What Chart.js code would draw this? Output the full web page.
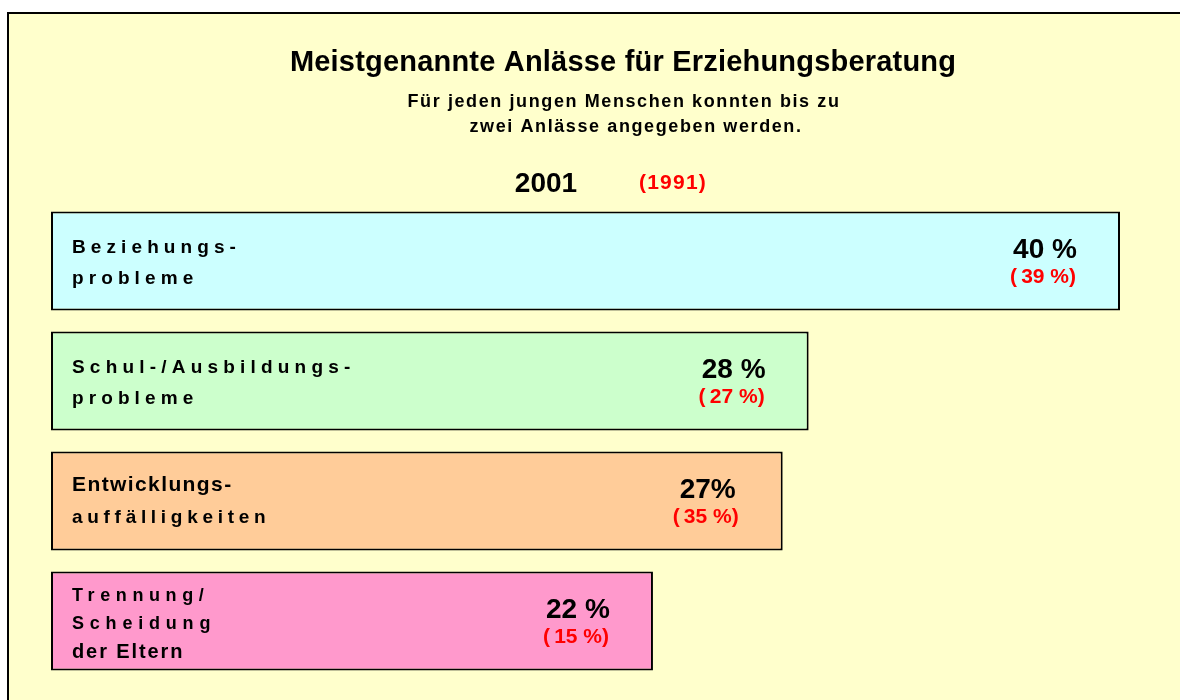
<!DOCTYPE html>
<html>
<head>
<meta charset="utf-8">
<script src="https://cdn.jsdelivr.net/npm/chart.js@4"></script>
<style>
  html, body { margin: 0; padding: 0; background: #fff; }
  #wrap  { position: relative; width: 1180px; height: 700px; overflow: hidden; }
  #frame { position: absolute; left: 7px; top: 12px; width: 1200px; height: 720px;
           background: #FFFFCC; border: 2px solid #000; }
  #chart { position: absolute; left: 0; top: 0; }
</style>
</head>
<body>
<div id="wrap">
  <div id="frame"></div>
  <canvas id="chart" width="1180" height="700"></canvas>
</div>
<script>
const FONT = "'Liberation Sans', Arial, sans-serif";

const categories = [
  ['Beziehungs-', 'probleme'],
  ['Schul-/Ausbildungs-', 'probleme'],
  ['Entwicklungs-', 'auffälligkeiten'],
  ['Trennung/', 'Scheidung', 'der Eltern'],
];
const values2001 = [40, 28, 27, 22];
const values1991 = [39, 27, 35, 15];
const labels2001 = ['40 %', '28 %', '27%', '22 %'];
const barColors  = ['#CCFFFF', '#CCFFCC', '#FFCC99', '#FF99CC'];

// font size / letter spacing / baseline offset for each line of the category text
const lineStyles = [
  [{ size: 19, sp: 5.1, dy: -8 }, { size: 19, sp: 5.1, dy: 23 }],
  [{ size: 19, sp: 5.2, dy: -8 }, { size: 19, sp: 5.1, dy: 23 }],
  [{ size: 21, sp: 1.4, dy: -10 }, { size: 19, sp: 4.7, dy: 22 }],
  [{ size: 18, sp: 5.6, dy: -20 }, { size: 18, sp: 5.8, dy: 8 }, { size: 20, sp: 1.9, dy: 37 }],
];

function drawText(ctx, s, x, y, size, color, align, spacing) {
  ctx.font = `bold ${size}px ${FONT}`;
  ctx.fillStyle = color;
  ctx.textAlign = align;
  ctx.textBaseline = 'alphabetic';
  ctx.letterSpacing = (spacing || 0) + 'px';
  ctx.fillText(s, x, y);
}

const textPlugin = {
  id: 'slideText',
  afterDatasetsDraw(chart) {
    const ctx = chart.ctx;
    ctx.save();
    // heading
    drawText(ctx, 'Meistgenannte Anlässe für Erziehungsberatung', 623, 71, 29, '#000', 'center', 0.2);
    drawText(ctx, 'Für jeden jungen Menschen konnten bis zu', 624, 107, 18, '#000', 'center', 1.6);
    drawText(ctx, 'zwei Anlässe angegeben werden.', 636, 132, 18, '#000', 'center', 1.6);
    drawText(ctx, '2001', 546, 192, 28, '#000', 'center', 0);
    drawText(ctx, '(1991)', 673, 189, 21, '#FF0000', 'center', 1.2);

    const meta = chart.getDatasetMeta(0);
    meta.data.forEach((bar, i) => {
      const left = Math.min(bar.base, bar.x);
      const right = Math.max(bar.base, bar.x);
      categories[i].forEach((line, j) => {
        const st = lineStyles[i][j];
        drawText(ctx, line, left + 21, bar.y + st.dy, st.size, '#000', 'left', st.sp);
      });
      const cx = right - 75;
      drawText(ctx, labels2001[i], cx, bar.y - 3, 28, '#000', 'center', 0);
      drawText(ctx, '(\u2009' + values1991[i] + ' %)', cx - 2, bar.y + 22, 21, '#FF0000', 'center', 0);
    });
    ctx.restore();
  },
};

new Chart(document.getElementById('chart'), {
  type: 'bar',
  data: {
    labels: categories.map(c => c.join(' ')),
    datasets: [{
      data: values2001,
      base: -1.2,
      backgroundColor: barColors,
      borderColor: '#000',
      borderWidth: 2,
      borderSkipped: false,
      barPercentage: 0.825,
      categoryPercentage: 1,
    }],
  },
  options: {
    indexAxis: 'y',
    responsive: false,
    animation: false,
    layout: { padding: { left: 51, right: 60, top: 201, bottom: 19 } },
    scales: {
      x: { display: false, min: -1.2, max: 40 },
      y: { display: false },
    },
    plugins: {
      legend: { display: false },
      tooltip: { enabled: false },
    },
  },
  plugins: [textPlugin],
});
</script>
</body>
</html>
